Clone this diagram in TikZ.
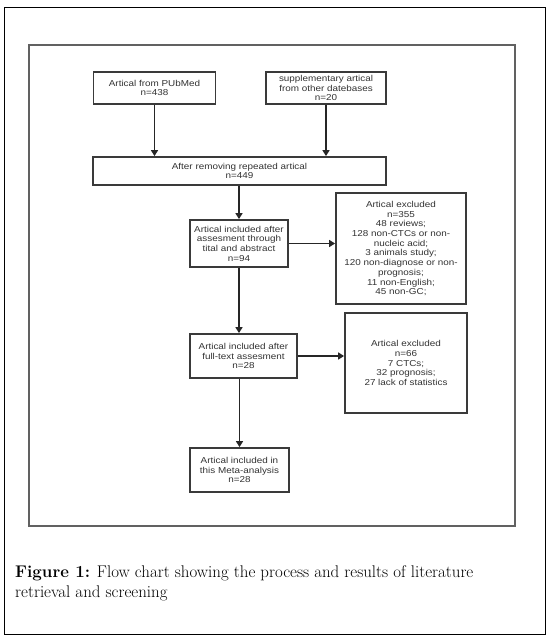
\documentclass[tikz,border=0pt]{standalone}
\usepackage{fontspec}
\newfontfamily\boxfont[FakeStretch=1.15]{Liberation Sans}
\usetikzlibrary{arrows.meta}
\definecolor{boxline}{HTML}{3A3A3A}
\definecolor{boxtext}{HTML}{333333}
\tikzset{
  flowbox/.style={draw=boxline, line width=1.8pt, inner sep=0pt, align=center,
    text=boxtext, font=\boxfont\fontsize{8.6}{9.7}\selectfont},
  flowarrow/.style={draw=black!85, line width=1.8pt, -{Triangle[width=7pt,length=6pt]}},
}
\begin{document}
\begin{tikzpicture}[x=1pt,y=-1pt]
\useasboundingbox (0,0) rectangle (550,637);
\fill[white] (0,0) rectangle (550,637);
% frames
\draw[black, line width=1pt] (4,7) rectangle (545,634);
\draw[boxline!80, line width=1.5pt] (29,45) rectangle (515,526);
% boxes
\node[flowbox, minimum width=122pt, minimum height=32pt] (b1) at (154.5,88)
  {Artical from PUbMed\\n=438};
\node[flowbox, minimum width=120pt, minimum height=32pt] (b2) at (326,88)
  {supplementary artical\\from other datebases\\n=20};
\node[flowbox, minimum width=293pt, minimum height=28pt] (b3) at (239.5,171)
  {After removing repeated artical\\n=449};
\node[flowbox, minimum width=98pt, minimum height=47pt] (b4) at (239,243.5)
  {Artical included after\\assesment through\\tital and abstract\\n=94};
\node[flowbox, minimum width=130pt, minimum height=111pt] (b5) at (401,248.5)
  {Artical excluded\\n=355\\48 reviews;\\128 non-CTCs or non-\\nucleic acid;\\3 animals study;\\120 non-diagnose or non-\\prognosis;\\11 non-English;\\45 non-GC;};
\node[flowbox, minimum width=107pt, minimum height=44pt] (b6) at (243.5,356)
  {Artical included after\\full-text assesment\\n=28};
\node[flowbox, minimum width=122pt, minimum height=100pt] (b7) at (406,363)
  {Artical excluded\\n=66\\7 CTCs;\\32 prognosis;\\27 lack of statistics};
\node[flowbox, minimum width=99pt, minimum height=44pt] (b8) at (239.5,470)
  {Artical included in\\this Meta-analysis\\n=28};
% arrows
\draw[flowarrow] (b1.south) -- (b1.south |- b3.north);
\draw[flowarrow] (b2.south) -- (b2.south |- b3.north);
\draw[flowarrow] (b4.north |- b3.south) -- (b4.north);
\draw[flowarrow] (b4.east) -- (b4.east -| b5.west);
\draw[flowarrow] (b4.south) -- (b4.south |- b6.north);
\draw[flowarrow] (b6.east) -- (b6.east -| b7.west);
\draw[flowarrow] (b8.north |- b6.south) -- (b8.north);
% caption
\node[anchor=base west, inner sep=0pt, font=\fontsize{16.9}{20}\selectfont] (cap1) at (15,577)
  {\textbf{Figure 1:} Flow chart showing the process and results of literature};
\node[anchor=base west, inner sep=0pt, font=\fontsize{16.9}{20}\selectfont] (cap2) at (15,597)
  {retrieval and screening};
\end{tikzpicture}
\end{document}
